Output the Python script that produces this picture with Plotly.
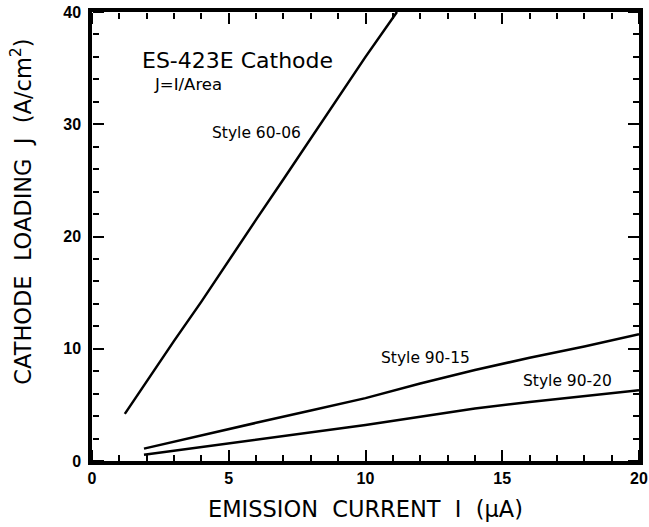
import plotly.graph_objects as go

# Data
i_6006 = [1.2, 2, 3, 4, 5, 6, 7, 8, 9, 10, 11.15]
j_6006 = [4.2, 7.1, 10.7, 14.2, 17.9, 21.5, 25.1, 28.7, 32.3, 36.0, 40.0]

i_9015 = [1.9, 4, 6, 8, 10, 12, 14, 16, 18, 20]
j_9015 = [1.1, 2.3, 3.4, 4.5, 5.6, 6.9, 8.1, 9.2, 10.2, 11.3]

i_9020 = [1.9, 4, 6, 8, 10, 12, 14, 16, 18, 20]
j_9020 = [0.55, 1.22, 1.86, 2.5, 3.2, 3.95, 4.68, 5.25, 5.77, 6.3]

X_RANGE = [0, 20]
Y_RANGE = [0, 40]

FONT = "DejaVu Sans"
TICKFONT = "Liberation Sans"
line = dict(color="black", width=2.5)

fig = go.Figure()
for xs, ys, nm in [(i_6006, j_6006, "Style 60-06"),
                   (i_9015, j_9015, "Style 90-15"),
                   (i_9020, j_9020, "Style 90-20")]:
    fig.add_trace(go.Scatter(x=xs, y=ys, mode="lines", line=line, name=nm,
                             showlegend=False))

# empty traces so the tick-only overlay axes get drawn
fig.add_trace(go.Scatter(x=[], y=[], xaxis="x2", yaxis="y2", showlegend=False,
                         hoverinfo="skip"))
fig.add_trace(go.Scatter(x=[], y=[], xaxis="x3", yaxis="y3", showlegend=False,
                         hoverinfo="skip"))

ann = [
    dict(x=1.75, y=35.7, text="ES-423E Cathode", size=22),
    dict(x=2.2, y=33.5, text="J=I/Area", size=16.5),
    dict(x=4.3, y=29.2, text="Style 60-06", size=15.5),
    dict(x=10.5, y=9.18, text="Style 90-15", size=15.5),
    dict(x=15.7, y=7.13, text="Style 90-20", size=15.5),
]
for a in ann:
    fig.add_annotation(x=a["x"], y=a["y"], text=a["text"], showarrow=False,
                       xanchor="left", yanchor="middle",
                       font=dict(family=FONT, size=a["size"], color="black"))

# y-axis title as a rotated text
fig.add_annotation(xref="paper", yref="paper", x=-0.13, y=0.555,
                   text="CATHODE  LOADING  J  (A/cm<sup>2</sup>)",
                   textangle=-90, showarrow=False, xanchor="center",
                   yanchor="middle",
                   font=dict(family=FONT, size=22.5, color="black"))

tickfont = dict(family=TICKFONT, size=16, color="black", weight="bold")

fig.update_layout(
    xaxis=dict(range=X_RANGE, tickmode="linear", tick0=0, dtick=5,
               showgrid=False, zeroline=False, showline=True,
               linecolor="black", linewidth=3.5, mirror=True, ticks="",
               automargin=False, tickfont=tickfont,
               title=dict(text="EMISSION  CURRENT  I  (\u03bcA)",
                          font=dict(family=FONT, size=22.5, color="black"),
                          standoff=16)),
    yaxis=dict(range=Y_RANGE, tickmode="linear", tick0=0, dtick=10,
               showgrid=False, zeroline=False, showline=True,
               linecolor="black", linewidth=3.5, mirror=True, ticks="",
               automargin=False, tickfont=tickfont, ticklabelstandoff=4),
)

def tick_axis(rng, dtick, minor_dtick, side, position, overlay):
    return dict(range=rng, overlaying=overlay, anchor="free", side=side,
                position=position, tickmode="linear", tick0=0, dtick=dtick,
                ticks="outside", ticklen=11, tickwidth=1.6, tickcolor="black",
                minor=dict(dtick=minor_dtick, ticks="outside", ticklen=6,
                           tickwidth=1.6, tickcolor="black", showgrid=False),
                showticklabels=False, showline=False, showgrid=False,
                zeroline=False, automargin=False, fixedrange=True)

fig.update_layout(
    xaxis2=tick_axis(X_RANGE, 5, 1, "top", 0, "x"),
    xaxis3=tick_axis(X_RANGE, 5, 1, "bottom", 1, "x"),
    yaxis2=tick_axis(Y_RANGE, 10, 2, "right", 0, "y"),
    yaxis3=tick_axis(Y_RANGE, 10, 2, "left", 1, "y"),
    width=649, height=527,
    margin=dict(l=92, r=10, t=12, b=66),
    plot_bgcolor="white", paper_bgcolor="white",
)

fig.write_html("out.html", config={"displayModeBar": False},
               post_script="document.body.style.margin='0';document.body.style.overflow='hidden';")
